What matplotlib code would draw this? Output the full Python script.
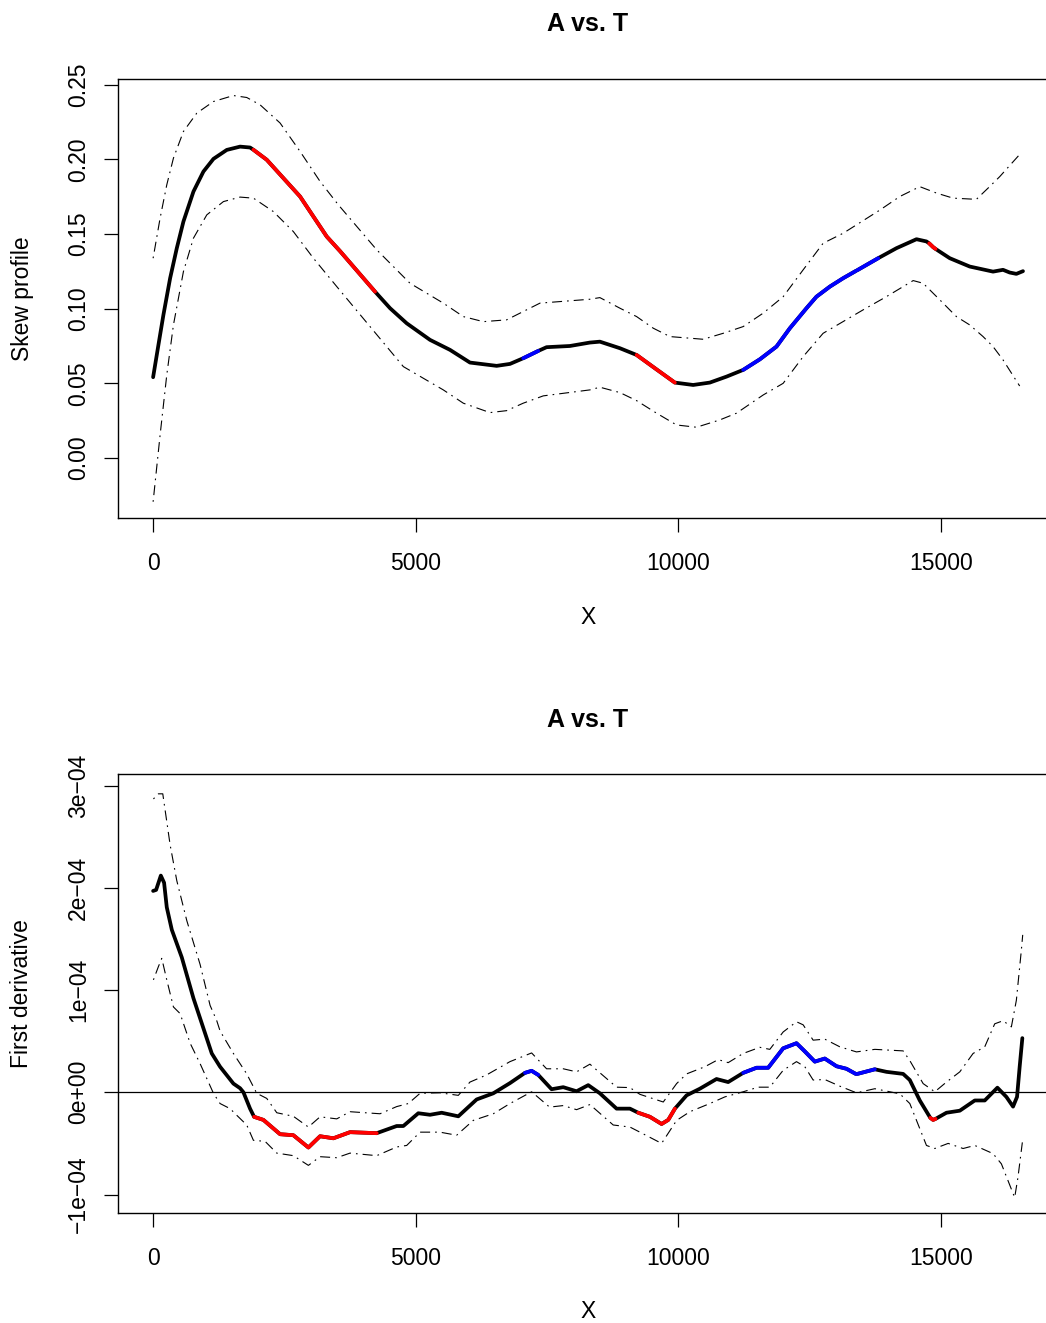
import numpy as np
import matplotlib
matplotlib.use("Agg")
from matplotlib import pyplot as plt

plt.rcParams['font.family'] = ['Liberation Sans', 'DejaVu Sans']

# skew profile along the sequence (position, skew)
pos_skew = np.array([0, 101, 196, 324, 451, 577, 768, 958, 1149, 1403, 1656, 1846, 1910,
                     2164, 2481, 2798, 3052, 3306, 3560, 4226, 4512, 4829, 5273, 5654, 6034,
                     6542, 6796, 7048, 7334, 7493, 7937, 8318, 8508, 8890, 9207, 9560, 9935,
                     10284, 10602, 10920, 11237, 11555, 11871, 12126, 12442, 12632, 12889,
                     13141, 13380, 13412, 13808, 14156, 14537, 14727, 14780, 14854, 14900,
                     15170, 15551, 15995, 16185, 16312, 16439, 16565])
skew = np.array([0.0541, 0.0757, 0.0958, 0.1204, 0.1405, 0.1583, 0.1784, 0.1918, 0.2003,
                 0.2063, 0.2085, 0.2079, 0.2064, 0.1997, 0.1874, 0.1751, 0.1617, 0.1483,
                 0.1385, 0.1114, 0.1003, 0.0902, 0.0791, 0.0724, 0.0639, 0.0617, 0.063,
                 0.0668, 0.0717, 0.0742, 0.075, 0.0773, 0.0779, 0.0735, 0.069, 0.060, 0.0505,
                 0.0489, 0.0505, 0.0545, 0.059, 0.0661, 0.0746, 0.0869, 0.1003, 0.108,
                 0.1148, 0.1204, 0.1252, 0.1258, 0.1338, 0.1405, 0.1465, 0.145, 0.1437,
                 0.1412, 0.1400, 0.1338, 0.1282, 0.1248, 0.126, 0.1242, 0.1233, 0.1251])

pos_skew_hi = np.array([0, 133, 260, 387, 577, 831, 1149, 1529, 1783, 2037, 2418, 2798, 3179,
                        3528, 4258, 4892, 5526, 5907, 6288, 6732, 7367, 8318, 8508, 8890, 9207,
                        9525, 9842, 10475, 10856, 11237, 11618, 11998, 12379, 12759, 13141,
                        13839, 14220, 14600, 14918, 15234, 15678, 15932, 16122, 16534])
skew_hi = np.array([0.1338, 0.1606, 0.1829, 0.2008, 0.2186, 0.2309, 0.2387, 0.2427, 0.2414,
                    0.2365, 0.2243, 0.2053, 0.1852, 0.1695, 0.1394, 0.117, 0.1037, 0.0947,
                    0.0913, 0.0925, 0.1037, 0.1063, 0.1074, 0.1003, 0.0947, 0.0869, 0.0813,
                    0.0795, 0.0835, 0.088, 0.097, 0.108, 0.126, 0.1438, 0.1505, 0.166,
                    0.1751, 0.1817, 0.1774, 0.174, 0.1732, 0.1818, 0.1884, 0.2045])

pos_skew_lo = np.array([0, 133, 260, 387, 577, 768, 1022, 1339, 1656, 1910, 2290, 2671, 3052,
                        3497, 4765, 5526, 5907, 6415, 6732, 7048, 7430, 8318, 8508, 8890, 9207,
                        9588, 9969, 10348, 10792, 11109, 11618, 11998, 12379, 12759, 13521,
                        13967, 14474, 14664, 14981, 15297, 15551, 15805, 15995, 16185, 16502])
skew_lo = np.array([-0.0293, 0.0154, 0.0556, 0.0891, 0.1248, 0.1472, 0.1628, 0.1717, 0.1747,
                    0.174, 0.165, 0.1516, 0.1338, 0.1148, 0.0612, 0.0456, 0.0367, 0.0304,
                    0.0317, 0.0367, 0.0416, 0.0456, 0.0474, 0.0438, 0.0384, 0.03, 0.0221,
                    0.0206, 0.0255, 0.03, 0.0422, 0.05, 0.0679, 0.0835, 0.0992, 0.1081,
                    0.1188, 0.117, 0.1059, 0.0947, 0.0891, 0.0813, 0.0746, 0.0657, 0.0482])

# first derivative, in units of 1e-4
pos_d = np.array([0, 57, 147, 209, 260, 356, 546, 768, 1117, 1275, 1529, 1656, 1720, 1783,
                  1846, 1923, 2100, 2418, 2671, 2957, 3179, 3433, 3750, 4258, 4638, 4765,
                  5050, 5273, 5495, 5812, 6161, 6478, 6796, 7081, 7208, 7334, 7588, 7810,
                  8064, 8286, 8508, 8826, 9080, 9238, 9461, 9683, 9810, 9937, 10159, 10412,
                  10729, 10951, 11237, 11491, 11713, 11998, 12252, 12411, 12601, 12791,
                  13014, 13204, 13380, 13412, 13744, 13966, 14283, 14410, 14600, 14800,
                  14854, 14900, 15108, 15362, 15647, 15837, 16078, 16249, 16376, 16452,
                  16502, 16553])
deriv = np.array([1.97, 1.98, 2.12, 2.05, 1.81, 1.59, 1.32, 0.92, 0.38, 0.25, 0.085, 0.04,
                  0.00, -0.08, -0.16, -0.24, -0.27, -0.41, -0.42, -0.54, -0.43, -0.45,
                  -0.39, -0.40, -0.33, -0.33, -0.205, -0.22, -0.20, -0.235, -0.07, -0.01,
                  0.09, 0.19, 0.21, 0.17, 0.03, 0.05, 0.01, 0.07, -0.01, -0.16, -0.16,
                  -0.20, -0.24, -0.31, -0.27, -0.16, -0.03, 0.035, 0.13, 0.10, 0.19, 0.24,
                  0.24, 0.43, 0.48, 0.40, 0.30, 0.33, 0.255, 0.23, 0.18, 0.18, 0.225, 0.20,
                  0.18, 0.12, -0.08, -0.25, -0.27, -0.26, -0.20, -0.18, -0.08, -0.08, 0.045,
                  -0.045, -0.14, -0.045, 0.25, 0.53]) * 1e-4

pos_d_hi = np.array([6, 101, 184, 324, 451, 641, 895, 1085, 1212, 1275, 1529, 1783, 1974,
                     2164, 2355, 2671, 2957, 3179, 3497, 3750, 4321, 4638, 4860, 5083, 5463,
                     5812, 6034, 6351, 6796, 7208, 7493, 7810, 8064, 8318, 8826, 9080, 9270,
                     9715, 9969, 10159, 10507, 10761, 10951, 11237, 11554, 11744, 11998,
                     12252, 12379, 12569, 12791, 13077, 13394, 13744, 14283, 14410, 14664,
                     14886, 15108, 15362, 15615, 15837, 16027, 16186, 16344, 16439, 16534,
                     16560])
deriv_hi = np.array([2.87, 2.92, 2.92, 2.42, 2.07, 1.68, 1.25, 0.85, 0.70, 0.60, 0.38, 0.18,
                     -0.01, -0.06, -0.20, -0.235, -0.34, -0.24, -0.26, -0.19, -0.21, -0.14,
                     -0.11, -0.01, -0.005, -0.03, 0.10, 0.17, 0.30, 0.385, 0.23, 0.23, 0.20,
                     0.275, 0.05, 0.046, -0.02, -0.095, 0.085, 0.18, 0.25, 0.32, 0.29, 0.38,
                     0.44, 0.42, 0.59, 0.69, 0.66, 0.51, 0.52, 0.445, 0.395, 0.42, 0.405,
                     0.31, 0.085, 0.005, 0.10, 0.20, 0.38, 0.445, 0.67, 0.70, 0.64, 0.90,
                     1.39, 1.54]) * 1e-4

pos_d_lo = np.array([6, 101, 165, 260, 387, 514, 705, 895, 1149, 1275, 1466, 1593, 1783,
                     1910, 2132, 2355, 2671, 2957, 3179, 3497, 3750, 4258, 4638, 4829, 5083,
                     5463, 5780, 6097, 6478, 6796, 7208, 7550, 7810, 8064, 8318, 8762, 9080,
                     9270, 9683, 9969, 10222, 10602, 10888, 11237, 11522, 11744, 11998, 12252,
                     12411, 12569, 12791, 13077, 13394, 13744, 14220, 14410, 14727, 14886,
                     15140, 15425, 15647, 15995, 16154, 16407, 16470, 16553])
deriv_lo = np.array([1.10, 1.23, 1.31, 1.10, 0.835, 0.77, 0.48, 0.28, -0.01, -0.11, -0.16,
                     -0.225, -0.32, -0.47, -0.48, -0.595, -0.62, -0.715, -0.63, -0.64,
                     -0.595, -0.62, -0.535, -0.52, -0.39, -0.39, -0.42, -0.275, -0.21, -0.11,
                     0.005, -0.145, -0.13, -0.17, -0.12, -0.32, -0.34, -0.39, -0.50, -0.275,
                     -0.19, -0.11, -0.045, 0.005, 0.05, 0.05, 0.215, 0.30, 0.25, 0.12, 0.125,
                     0.06, -0.005, 0.035, -0.015, -0.11, -0.52, -0.55, -0.50, -0.55, -0.52,
                     -0.60, -0.70, -1.03, -0.83, -0.49]) * 1e-4

# significant stretches (start, end, colour)
skew_regions = [(1910, 4226, 'red'), (7048, 7334, 'blue'), (9207, 9935, 'red'),
                (11237, 13380, 'blue'), (13412, 13808, 'blue'), (14780, 14900, 'red')]
deriv_regions = [(1923, 4258, 'red'), (7081, 7334, 'blue'), (9238, 9937, 'red'),
                 (11237, 13380, 'blue'), (13412, 13744, 'blue'), (14800, 14900, 'red')]

W, H = 1046, 1323
fig = plt.figure(figsize=(W / 100, H / 100), dpi=100)

band_style = dict(color='black', lw=0.8, linestyle=(0, (1.5, 4.5, 9, 4.5)))


def draw_profile(ax, x, y, xh, yh, xl, yl, regions):
    ax.plot(xh, yh, **band_style)
    ax.plot(xl, yl, **band_style)
    ax.plot(x, y, color='black', lw=2.7, solid_capstyle='round', solid_joinstyle='round')
    for a, b, c in regions:
        m = (x >= a) & (x <= b)
        ax.plot(x[m], y[m], color=c, lw=2.7, solid_capstyle='round',
                solid_joinstyle='round')


def style_axes(ax, yticks, ylabels):
    ax.set_xlim(-663, 17232)
    ax.set_xticks([0, 5000, 10000, 15000])
    ax.set_xticklabels(['0', '5000', '10000', '15000'])
    ax.set_yticks(yticks)
    ax.set_yticklabels(ylabels, rotation=90, va='center')
    for s in ax.spines.values():
        s.set_linewidth(1.0)
    ax.tick_params(axis='both', direction='out', length=10, width=0.9, labelsize=16.5)
    ax.tick_params(axis='x', pad=14.8)
    ax.tick_params(axis='y', pad=10.2)


def px_axes(left, top, right, bottom):
    return fig.add_axes([left / W, 1 - bottom / H, (right - left) / W, (bottom - top) / H])


ax1 = px_axes(118.3, 79.3, 1058, 517.7)
draw_profile(ax1, pos_skew, skew, pos_skew_hi, skew_hi, pos_skew_lo, skew_lo, skew_regions)
style_axes(ax1, [0, 0.05, 0.10, 0.15, 0.20, 0.25],
           ['0.00', '0.05', '0.10', '0.15', '0.20', '0.25'])
ax1.set_ylim(-0.03998, 0.25358)

ax2 = px_axes(118.3, 774.3, 1058, 1212.7)
ax2.axhline(0, color='black', lw=0.9)
draw_profile(ax2, pos_d, deriv, pos_d_hi, deriv_hi, pos_d_lo, deriv_lo, deriv_regions)
style_axes(ax2, [-1e-4, 0, 1e-4, 2e-4, 3e-4],
           ['\u22121e\u221204', '0e+00', '1e\u221204', '2e\u221204', '3e\u221204'])
ax2.set_ylim(-1.178e-4, 3.111e-4)

# titles and axis labels
title_font = dict(weight='bold', size=18, ha='center', va='center')
fig.text(588 / W, 1 - 24 / H, 'A vs. T', **title_font)
fig.text(588 / W, 1 - 720 / H, 'A vs. T', **title_font)
fig.text(588 / W, 1 - 618 / H, 'X', size=16.5, ha='center', va='center')
fig.text(588 / W, 1 - 1312 / H, 'X', size=16.5, ha='center', va='center')
fig.text(22 / W, 1 - 298.5 / H, 'Skew profile', size=16.5, rotation=90,
         ha='center', va='center')
fig.text(22 / W, 1 - 993.5 / H, 'First derivative', size=16.5, rotation=90,
         ha='center', va='center')

fig.savefig('out.png', dpi=100)
